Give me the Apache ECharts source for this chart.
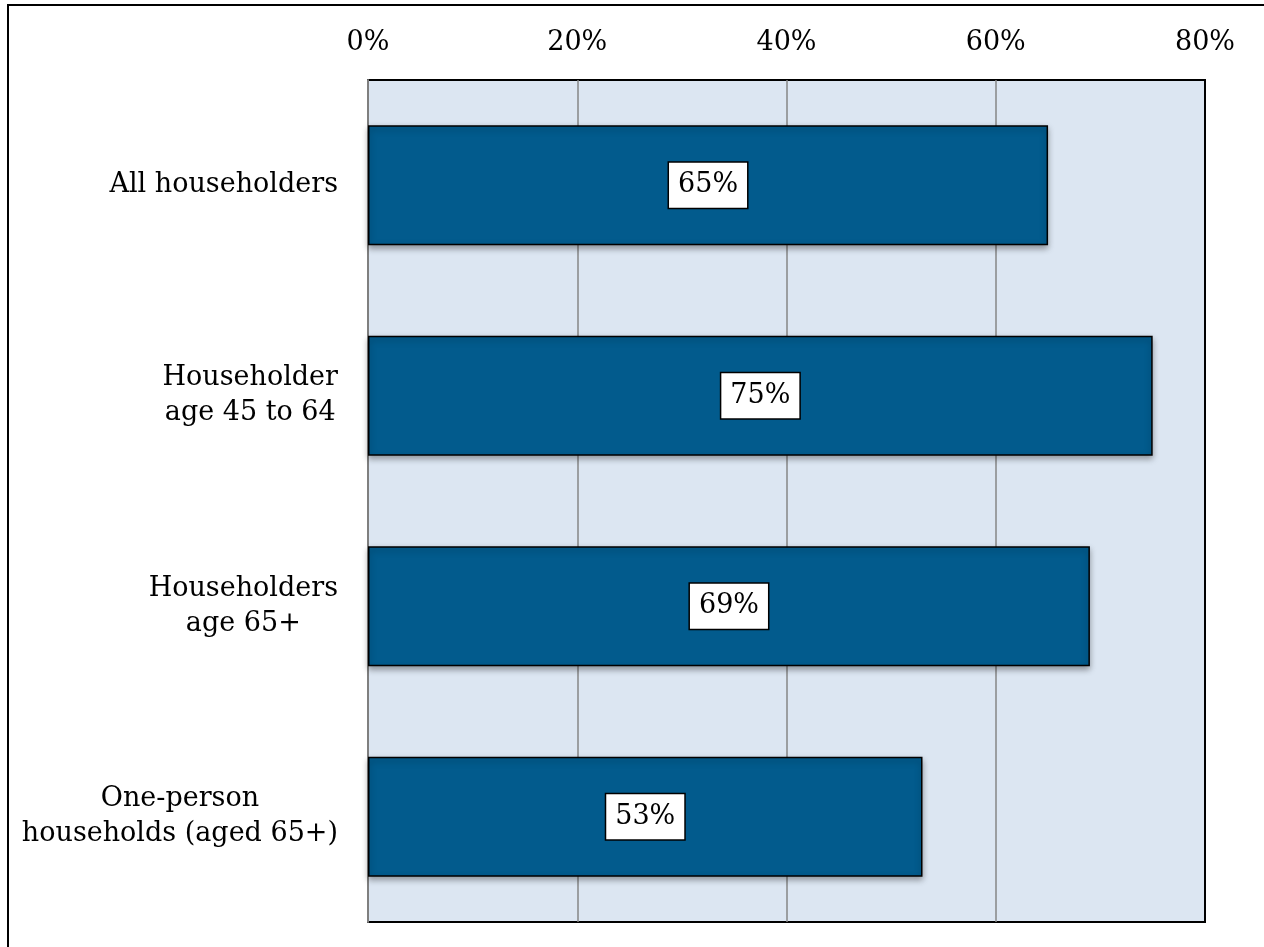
<!DOCTYPE html>
<html>
<head>
<meta charset="utf-8">
<script src="https://cdn.jsdelivr.net/npm/echarts@6/dist/echarts.min.js"></script>
<style>
  html, body { margin: 0; padding: 0; background: #ffffff; }
  #chart { width: 1264px; height: 947px; }
</style>
</head>
<body>
<div id="chart"></div>
<script>
// Share of householders by group (percent)
const categories = [
  'All householders',
  'Householder\nage 45 to 64',
  'Householders\nage 65+',
  'One-person\nhouseholds (aged 65+)'
];
const values = [65, 75, 69, 53];
const tickLabels = ['0%', '20%', '40%', '60%', '80%'];

const FONT = '"DejaVu Serif", serif';
const chart = echarts.init(document.getElementById('chart'));

// Each line of a category label is a centred rich token, so multi-line
// labels read as centred blocks that sit flush against the axis.
function categoryLabel(text) {
  return text.split('\n').map(line => '{c|' + line + '}').join('\n');
}

chart.setOption({
  animation: false,
  backgroundColor: '#ffffff',
  graphic: [{
    type: 'rect',
    z: -10,
    shape: { x: 8, y: 5, width: 1400, height: 1200 },
    style: { fill: 'none', stroke: '#000000', lineWidth: 2 }
  }],
  grid: {
    left: 368, right: 59, top: 80, bottom: 25,
    show: true,
    backgroundColor: '#DCE6F2',
    borderColor: '#000000',
    borderWidth: 2
  },
  xAxis: {
    type: 'value',
    position: 'top',
    min: 0, max: 80, interval: 20,
    axisLine: { show: false },
    axisTick: { show: false },
    axisLabel: {
      margin: 24,
      fontFamily: FONT, fontSize: 27, color: '#000000',
      formatter: v => tickLabels[Math.round(v / 20)]
    },
    splitLine: {
      show: true,
      showMinLine: false,
      showMaxLine: false,
      lineStyle: { color: '#868686', width: 1.5 }
    }
  },
  yAxis: {
    type: 'category',
    data: categories,
    inverse: true,
    axisLine: { show: true, lineStyle: { color: '#7f7f7f', width: 2 } },
    axisTick: { show: false },
    axisLabel: {
      margin: 30,
      formatter: categoryLabel,
      rich: {
        c: { align: 'center', fontFamily: FONT, fontSize: 27, color: '#000000', lineHeight: 35 }
      }
    }
  },
  series: [{
    type: 'bar',
    data: values,
    barWidth: 120,
    itemStyle: {
      color: '#025B8D',
      borderColor: '#000000',
      borderWidth: 1.5,
      shadowColor: 'rgba(0,0,0,0.35)',
      shadowBlur: 6,
      shadowOffsetY: 3
    },
    label: {
      show: true,
      position: 'inside',
      formatter: p => p.value + '%',
      fontFamily: FONT, fontSize: 27, color: '#000000',
      backgroundColor: '#ffffff',
      borderColor: '#000000',
      borderWidth: 1.5,
      padding: [10, 9, 8, 9]
    }
  }]
});
</script>
</body>
</html>
